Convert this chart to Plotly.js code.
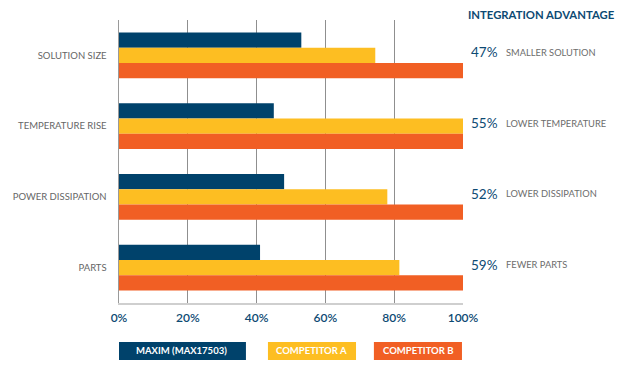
<!DOCTYPE html>
<html><head><meta charset="utf-8">
<script src="https://cdn.plot.ly/plotly-3.0.1.min.js"></script>
<style>html,body{margin:0;padding:0;background:#fff}#chart{width:621px;height:371px}</style>
</head><body><div id="chart"></div>
<script>
const categories = ["SOLUTION SIZE", "TEMPERATURE RISE", "POWER DISSIPATION", "PARTS"];
const seriesNames = ["MAXIM (MAX17503)", "COMPETITOR A", "COMPETITOR B"];
const maxim = [53, 45, 48, 41];
const competitorA = [74.5, 100, 78, 81.5];
const competitorB = [100, 100, 100, 100];
const advantagePct = ["47%", "55%", "52%", "59%"];
const advantageText = ["SMALLER SOLUTION", "LOWER TEMPERATURE", "LOWER DISSIPATION", "FEWER PARTS"];
const xTicks = [0, 20, 40, 60, 80, 100];
const xTickText = ["0%", "20%", "40%", "60%", "80%", "100%"];

const colors = ["#00426b", "#fdbe22", "#f15f24"];
const series = [maxim, competitorA, competitorB];
const FONT = "Lato, 'Open Sans', sans-serif";

const traces = series.map((vals, i) => ({
  type: "bar", orientation: "h", name: seriesNames[i],
  x: vals, y: categories, marker: {color: colors[i], line: {width: 0}},
  hoverinfo: "skip"
}));

const annotations = [{
  xref: "paper", yref: "paper", x: 1.008, y: 1.021, xanchor: "left", yanchor: "middle",
  text: "INTEGRATION ADVANTAGE", showarrow: false,
  font: {family: FONT, size: 11.3, color: "#0d4a73", weight: 700}
}];
categories.forEach((c, i) => {
  annotations.push({xref: "paper", yref: "y", x: 1.016, y: c, yshift: 3, xanchor: "left",
    text: advantagePct[i], showarrow: false, font: {family: FONT, size: 13.5, color: "#0d4a73"}});
  annotations.push({xref: "paper", yref: "y", x: 1.119, y: c, yshift: 3, xanchor: "left",
    text: advantageText[i], showarrow: false, font: {family: FONT, size: 9.3, color: "#6d6d6d"}});
});

// custom legend boxes
const legendBoxes = [[-0.3, 36.9], [43.3, 68.9], [74.1, 99.7]];
const shapes = [];
legendBoxes.forEach((b, i) => {
  shapes.push({type: "rect", xref: "x", yref: "paper", x0: b[0], x1: b[1], y0: -0.2014, y1: -0.1378,
    fillcolor: colors[i], line: {width: 0}});
  annotations.push({xref: "x", yref: "paper", x: (b[0] + b[1]) / 2, y: -0.1696, xanchor: "center", yanchor: "middle",
    text: seriesNames[i], showarrow: false, font: {family: FONT, size: 9.5, color: "#ffffff", weight: 700}});
});

const layout = {
  width: 621, height: 371,
  margin: {l: 119, r: 158, t: 20, b: 68},
  paper_bgcolor: "#ffffff", plot_bgcolor: "#ffffff",
  barmode: "group", bargap: 0.35, bargroupgap: 0,
  showlegend: false,
  font: {family: FONT},
  xaxis: {
    range: [0, 100], tickvals: xTicks, ticktext: xTickText,
    showgrid: true, gridcolor: "#8f8f8f", gridwidth: 1, zeroline: false,
    showline: true, linecolor: "#cfcfcf", linewidth: 1.5,
    ticks: "", ticklabelstandoff: 3,
    tickfont: {family: FONT, size: 12, color: "#0d4a73", weight: 600}, fixedrange: true
  },
  yaxis: {
    type: "category", categoryorder: "array", categoryarray: categories,
    range: [3.5, -0.5],
    showgrid: false, zeroline: false,
    showline: true, linecolor: "#9a9a9a", linewidth: 1.5,
    ticks: "", ticklabelstandoff: 9,
    tickfont: {family: FONT, size: 9.5, color: "#666666"}, fixedrange: true
  },
  shapes: shapes,
  annotations: annotations
};

Plotly.newPlot("chart", traces, layout, {displayModeBar: false, staticPlot: true});
</script></body></html>
